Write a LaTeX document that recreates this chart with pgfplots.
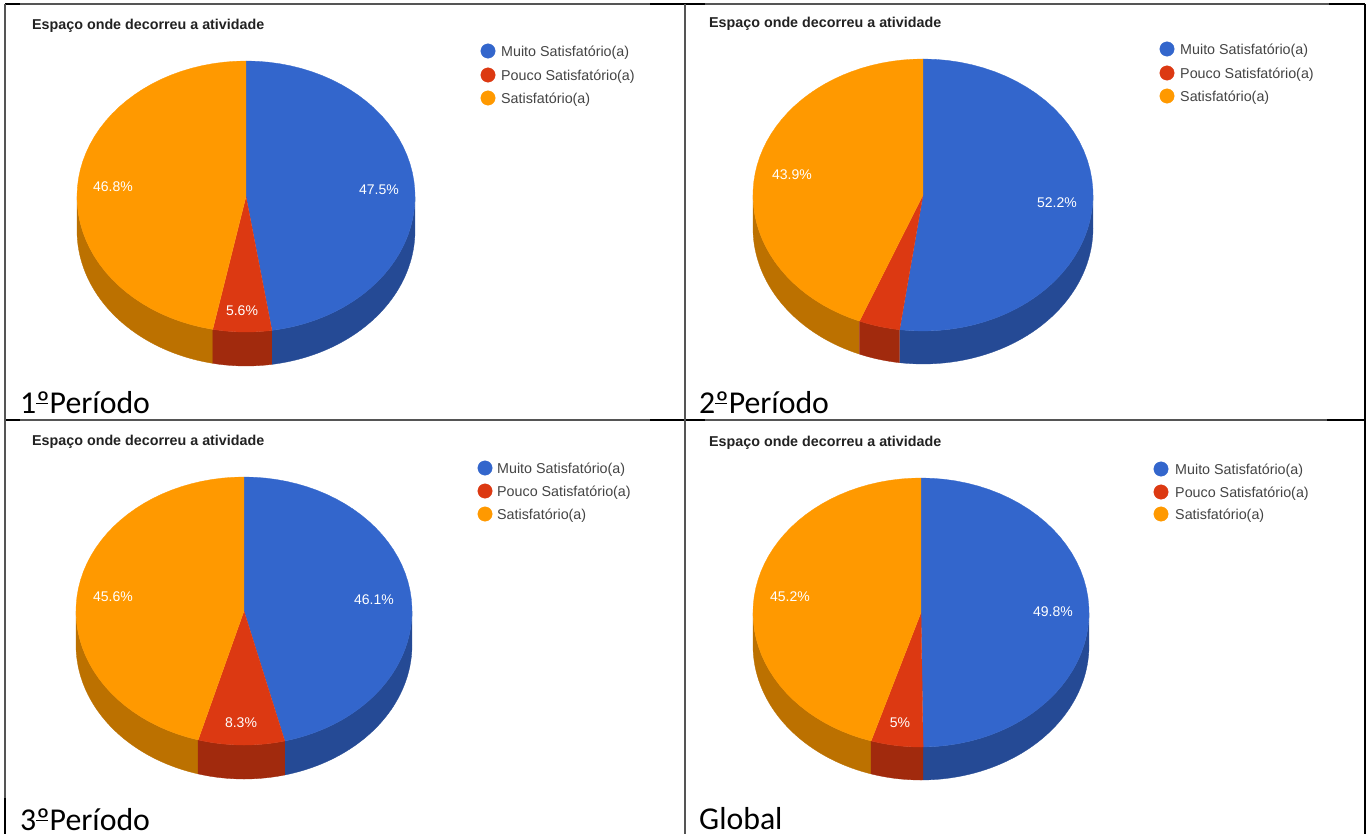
\documentclass[border=0pt]{standalone}
\usepackage{pgfplots}
\pgfplotsset{compat=1.18}
\usepackage{fontspec}
\setmainfont{Liberation Sans}
\newfontfamily\calib{Carlito}
\definecolor{pblue}{HTML}{3366CC}
\definecolor{pred}{HTML}{DC3912}
\definecolor{porange}{HTML}{FF9900}
\definecolor{dblue}{HTML}{254A95}
\definecolor{dred}{HTML}{A12A0D}
\definecolor{dorange}{HTML}{BC7100}
\definecolor{ltxt}{HTML}{444444}
\definecolor{ttxt}{HTML}{222222}
\definecolor{rule}{HTML}{555555}
\tikzset{
  lg/.style={anchor=west,inner sep=0pt,yshift=-1.5pt,text=ltxt,font=\fontsize{14.3}{16}\selectfont},
  pct/.style={anchor=center,inner sep=0pt,yshift=-1pt,text=white,font=\fontsize{14}{16}\selectfont},
  ttl/.style={anchor=base west,inner sep=0pt,text=ttxt,font=\bfseries\fontsize{14.3}{16}\selectfont},
  per/.style={anchor=base west,inner sep=0pt,text=black,font=\calib\fontsize{31.8}{34}\selectfont},
}
% ordinal sign with the bar under it, as the reference shows it
\newcommand\ordo{\rlap{º}\rlap{\raisebox{0.27em}{\rule{0.36em}{0.045em}}}\hphantom{º}}
% append an elliptical arc to \pts
\newcommand\arcpts[6]{%
  \foreach \i in {0,...,45}{%
    \pgfmathsetmacro\t{#5+(#6-(#5))*\i/45}%
    \pgfmathsetmacro\px{#1+#3*sin(\t)}%
    \pgfmathsetmacro\py{#2-#4*cos(\t)}%
    \xdef\pts{\pts (\px,\py)}%
  }}
\newcommand\drawpts[1]{%
  \edef\temp{\noexpand\addplot[fill=#1,draw=#1,line width=0.3pt] coordinates {\pts};}\temp}
% cx cy rx ry t0 t1 colour
\newcommand\topslice[7]{%
  \gdef\pts{}\xdef\pts{(#1,#2)}\arcpts{#1}{#2}{#3}{#4}{#5}{#6}\drawpts{#7}}
% cx cy rx ry depth t0 t1 colour
\newcommand\sideslice[8]{%
  \pgfmathsetmacro\sa{max(#6,90)}\pgfmathsetmacro\sb{min(#7,270)}%
  \pgfmathparse{\sa<\sb?1:0}%
  \ifdim\pgfmathresult pt>0.5pt
    \gdef\pts{}%
    \let\SA\sa\let\SB\sb
    \edef\tempa{\noexpand\arcpts{#1}{#2}{#3}{#4}{\SA}{\SB}}\tempa
    \pgfmathsetmacro\ycc{#2+#5}%
    \edef\tempb{\noexpand\arcpts{#1}{\ycc}{#3}{#4}{\SB}{\SA}}\tempb
    \drawpts{#8}%
  \fi}
% cx cy rx ry depth v1 v2 v3
\newcommand\threedpie[8]{%
  \pgfmathsetmacro\aone{3.6*(#6/(#6+#7+#8))*100}%
  \pgfmathsetmacro\atwo{3.6*((#6+#7)/(#6+#7+#8))*100}%
  \edef\AO{\aone}\edef\AT{\atwo}%
  \sideslice{#1}{#2}{#3}{#4}{#5}{0}{\AO}{dblue}%
  \sideslice{#1}{#2}{#3}{#4}{#5}{\AT}{360}{dorange}%
  \sideslice{#1}{#2}{#3}{#4}{#5}{\AO}{\AT}{dred}%
  \topslice{#1}{#2}{#3}{#4}{0}{\AO}{pblue}%
  \topslice{#1}{#2}{#3}{#4}{\AO}{\AT}{pred}%
  \topslice{#1}{#2}{#3}{#4}{\AT}{360}{porange}%
}
% mx textx y1 y2 y3
\newcommand\pielegend[5]{%
  \addplot[only marks,mark=*,mark size=7.2pt,color=pblue] coordinates {(#1,#3)};
  \addplot[only marks,mark=*,mark size=7.2pt,color=pred] coordinates {(#1,#4)};
  \addplot[only marks,mark=*,mark size=7.2pt,color=porange] coordinates {(#1,#5)};
  \node[lg] at (axis cs:#2,#3) {Muito Satisfatório(a)};
  \node[lg] at (axis cs:#2,#4) {Pouco Satisfatório(a)};
  \node[lg] at (axis cs:#2,#5) {Satisfatório(a)};
}
\begin{document}
\begin{tikzpicture}
\begin{axis}[
  scale only axis, width=1371pt, height=834pt,
  xmin=0, xmax=1371, ymin=0, ymax=834, y dir=reverse,
  axis lines=none, clip=false,
]
\addplot[fill=white,draw=none] coordinates {(0,0) (1371,0) (1371,834) (0,834)} -- cycle;

\threedpie{246}{196.5}{169}{135.5}{34}{47.5}{5.6}{46.8}
\threedpie{923}{195}{170}{136}{33}{52.2}{3.9}{43.9}
\threedpie{244}{611}{168}{134}{34}{46.1}{8.3}{45.6}
\threedpie{921}{612.5}{168}{134.5}{33}{49.8}{5}{45.2}

\pielegend{488}{501}{51}{75}{98}
\pielegend{1167}{1180}{49}{73}{96}
\pielegend{485}{497}{468}{491}{514}
\pielegend{1161}{1175}{469}{492}{514}

\node[pct] at (axis cs:379,189) {47.5\%};
\node[pct] at (axis cs:113,186) {46.8\%};
\node[pct] at (axis cs:242,310) {5.6\%};
\node[pct] at (axis cs:1057,202) {52.2\%};
\node[pct] at (axis cs:792,174) {43.9\%};
\node[pct] at (axis cs:374,599) {46.1\%};
\node[pct] at (axis cs:113,596) {45.6\%};
\node[pct] at (axis cs:241,722) {8.3\%};
\node[pct] at (axis cs:1053,611) {49.8\%};
\node[pct] at (axis cs:790,596) {45.2\%};
\node[pct] at (axis cs:900,722) {5\%};

\node[ttl] at (axis cs:32,29.5) {Espaço onde decorreu a atividade};
\node[ttl] at (axis cs:709,27.5) {Espaço onde decorreu a atividade};
\node[ttl] at (axis cs:32,445) {Espaço onde decorreu a atividade};
\node[ttl] at (axis cs:709,446) {Espaço onde decorreu a atividade};

\node[per] at (axis cs:20,413) {1\ordo Período};
\node[per] at (axis cs:699,413) {2\ordo Período};
\node[per] at (axis cs:20,830) {3\ordo Período};
\node[per] at (axis cs:699,829) {Global};

% table rules
\addplot[black,line width=1.6pt] coordinates {(5,4) (1365,4)};
\addplot[rule,line width=1.6pt] coordinates {(20,4) (650,4)};
\addplot[rule,line width=1.6pt] coordinates {(705,4) (1329,4)};
\addplot[black,line width=1.6pt] coordinates {(5,420) (1365,420)};
\addplot[rule,line width=1.4pt] coordinates {(20,420) (650,420)};
\addplot[rule,line width=1.4pt] coordinates {(705,420) (1327,420)};
\addplot[rule,line width=1.4pt] coordinates {(5,4) (5,798)};
\addplot[black,line width=1.6pt] coordinates {(5,798) (5,834)};
\addplot[rule,line width=1.4pt] coordinates {(685,4) (685,834)};
\addplot[black,line width=1.6pt] coordinates {(1365,4) (1365,834)};
\end{axis}
\end{tikzpicture}
\end{document}
